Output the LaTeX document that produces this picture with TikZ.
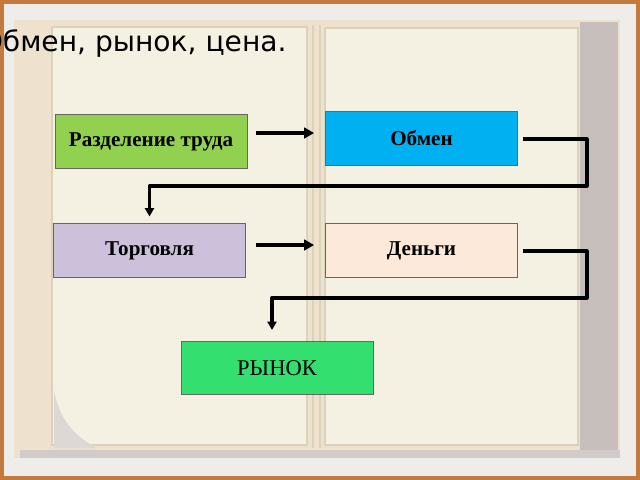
\documentclass[tikz,border=0pt]{standalone}
\usepackage{fontspec}
\setmainfont{Liberation Serif}
\newfontfamily\titlefont{DejaVu Sans}
\usetikzlibrary{arrows.meta,calc}

\definecolor{framebrown}{HTML}{C27A3E}
\definecolor{matwhite}{HTML}{EEEDEA}
\definecolor{cover}{HTML}{EEE2CF}
\definecolor{pagepanel}{HTML}{F4F1E3}
\definecolor{pageline}{HTML}{DBD2BC}
\definecolor{spinegray}{HTML}{C6BFBB}
\definecolor{razdgreen}{HTML}{92D050}
\definecolor{obmenblue}{HTML}{00B0F0}
\definecolor{torglilac}{HTML}{CCC0DA}
\definecolor{dengipeach}{HTML}{FDE9D9}
\definecolor{rynokgreen}{HTML}{33E06F}

\begin{document}
\begin{tikzpicture}[x=0.025cm, y=-0.025cm,
		box/.style={draw=black!60, line width=0.6pt, rectangle, inner sep=0pt,
			minimum width=4.8cm, minimum height=1.33cm,
			font=\fontsize{15}{18}\selectfont\bfseries},
		arrow/.style={line width=2.3pt, -{Triangle[length=7pt,width=7.5pt]}},
		elbow/.style={line width=2.3pt, line join=round, -{Triangle[length=6pt,width=6.5pt]}}]
	\useasboundingbox (0,0) rectangle (640,480);
	\clip (0,0) rectangle (640,480);

	% book on the slide
	\fill[framebrown] (0,0) rectangle (640,480);
	\fill[matwhite] (4,4) rectangle (636,476);
	\fill[cover] (14,20) rectangle (620,458);
	\fill[spinegray] (580,22) rectangle (618,456);
	\fill[spinegray!80] (20,450) rectangle (620,458);
	\fill[pagepanel, draw=pageline, line width=0.8pt] (52,27) rectangle (307,445);
	\fill[pagepanel, draw=pageline, line width=0.8pt] (325,28) rectangle (578,445);
	\fill[spinegray!60] (54,390) .. controls (60,425) and (80,438) .. (96,448) -- (54,448) -- cycle;
	\draw[pageline, line width=0.8pt] (313,25) -- (313,448);
	\draw[pageline, line width=0.8pt] (320,25) -- (320,448);

	\node[anchor=base west, inner sep=0pt, font=\titlefont\fontsize{20}{24}\selectfont] (title) at (-19.5,52) {Обмен, рынок, цена.};

	\node[box, fill=razdgreen] (razd) at (151,141.5) {Разделение труда};
	\node[box, fill=obmenblue] (obmen) at (421.5,138.5) {Обмен};
	\node[box, fill=torglilac] (torg) at (149.5,250.5) {Торговля};
	\node[box, fill=dengipeach] (dengi) at (421.5,250.5) {Деньги};
	\node[box, fill=rynokgreen, font=\fontsize{16}{19}\selectfont\mdseries] (rynok) at (277,368) {РЫНОК};

	\draw[arrow] ($(razd.east)+(9,-8.5)$) -- ($(obmen.west)+(-11,-5.5)$);
	\draw[arrow] ($(torg.east)+(10,-5.5)$) -- ($(dengi.west)+(-11,-5.5)$);
	\draw[elbow] ($(obmen.east)+(5,0.5)$) -| ($(obmen.east)+(69,47.5)$) -| ($(torg.north)+(0,-7)$);
	\draw[elbow] ($(dengi.east)+(5,0.5)$) -| ($(dengi.east)+(69,47.5)$) -| ($(rynok.north)+(-5,-11)$);
\end{tikzpicture}
\end{document}
